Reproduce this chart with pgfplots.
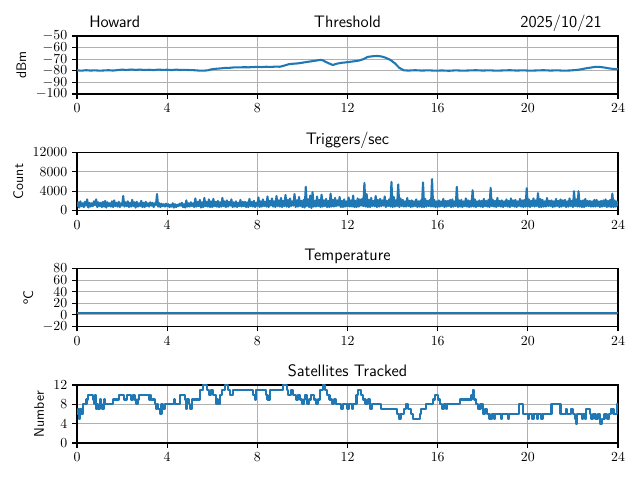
\documentclass[border=0pt]{standalone}
\usepackage{pgfplots}
\pgfplotsset{compat=1.18}
\definecolor{mplblue}{HTML}{1F77B4}
\definecolor{gridgray}{HTML}{B0B0B0}
\pgfplotsset{
  panel/.style={
    scale only axis, width=5.41in, height=0.58in, anchor=south west,
    xmin=0, xmax=24, xtick={0,4,...,24},
    grid=major, major grid style={color=gridgray, line width=0.8pt},
    axis line style={line width=0.8pt},
    tick align=outside, major tick length=3.5pt, tick pos=left,
    tick style={black, line width=0.8pt},
    scaled y ticks=false,
    /pgf/number format/1000 sep={},
    ylabel style={font=\sffamily},
    every axis title/.style={at={(0.5,1)}, anchor=base, yshift=6pt, inner sep=0pt,
      font=\sffamily\fontsize{12}{14}\selectfont},
  },
  mplline/.style={color=mplblue, line width=1.5pt, line join=round, no markers},
}
\begin{document}
\begin{tikzpicture}
\path[use as bounding box] (0,0) rectangle (6.4in,4.8in);
% Panel 1: Threshold
\begin{axis}[panel, at={(0.77in,3.86in)}, ymin=-100, ymax=-50, ytick={-100,-90,...,-50}, ylabel={dBm}, title={Threshold}]
\addplot[mplline] coordinates {
(0.0,-79.6) (0.2,-79.9) (0.4,-79.5) (0.6,-79.8) (0.8,-79.6) (1.0,-79.9) (1.2,-79.7) (1.4,-79.5) (1.6,-79.8) (1.8,-79.4)
(2.0,-79.0) (2.2,-79.3) (2.4,-78.9) (2.6,-79.2) (2.8,-79.0) (3.0,-79.3) (3.2,-79.1) (3.4,-79.4) (3.6,-79.0) (3.8,-79.2)
(4.0,-79.1) (4.2,-79.4) (4.4,-79.0) (4.6,-79.3) (4.8,-79.2) (5.0,-79.4) (5.2,-79.5) (5.4,-79.8) (5.6,-79.9) (5.8,-79.6)
(6.0,-78.6) (6.2,-78.2) (6.4,-77.9) (6.6,-77.5) (6.8,-77.4) (7.0,-77.0) (7.2,-77.1) (7.4,-76.9) (7.6,-77.0) (7.8,-76.8)
(8.0,-76.6) (8.2,-76.8) (8.4,-76.5) (8.6,-76.7) (8.8,-76.4) (9.0,-76.5) (9.2,-75.5) (9.4,-74.3) (9.6,-73.9) (9.8,-73.6)
(10.0,-73.0) (10.2,-72.4) (10.4,-71.8) (10.6,-71.2) (10.8,-70.6) (10.9,-70.9) (11.0,-72.0) (11.2,-73.8) (11.35,-75.0) (11.5,-74.0)
(11.7,-73.2) (11.9,-72.8) (12.1,-72.3) (12.3,-71.8) (12.5,-71.2) (12.7,-70.0) (12.9,-68.0) (13.1,-67.5) (13.3,-67.2) (13.5,-67.6)
(13.7,-68.8) (13.9,-70.6) (14.1,-73.5) (14.3,-77.5) (14.5,-79.6) (14.7,-79.8) (15.0,-79.5) (15.3,-79.8) (15.6,-79.6) (15.9,-79.9)
(16.2,-79.7) (16.5,-80.0) (16.8,-79.6) (17.1,-79.9) (17.4,-79.7) (17.7,-79.5) (18.0,-79.8) (18.3,-79.6) (18.6,-79.9) (18.9,-79.7)
(19.2,-79.5) (19.5,-79.8) (19.8,-79.6) (20.1,-79.9) (20.4,-79.7) (20.7,-79.5) (21.0,-79.8) (21.3,-79.6) (21.6,-79.9) (21.9,-79.7)
(22.2,-79.2) (22.4,-78.6) (22.6,-77.8) (22.8,-77.2) (23.0,-76.6) (23.2,-76.7) (23.4,-77.2) (23.6,-77.9) (23.8,-78.4) (24.0,-78.6)
};
\end{axis}
\node[anchor=base west, inner sep=0pt, font=\sffamily\fontsize{12}{14}\selectfont] at (0.89in,4.52in) {Howard};
\node[anchor=base east, inner sep=0pt, font=\sffamily\fontsize{12}{14}\selectfont] at (6.02in,4.52in) {2025/10/21};
% Panel 2: Triggers/sec
\begin{axis}[panel, at={(0.77in,2.695in)}, ymin=0, ymax=12000, ytick={0,4000,8000,12000}, ylabel={Count}, title={Triggers/sec}]
\addplot[mplline] coordinates {
(0.00,800)(0.05,1700)(0.10,600)(0.15,1900)(0.20,900)(0.25,1500)(0.30,700)(0.35,1800)(0.40,1000)(0.45,2300)(0.50,600)(0.55,1600)(0.60,800)(0.65,1500)(0.70,900)(0.75,1900)(0.80,1100)(0.85,2300)(0.90,700)(0.95,1700)
(1.00,900)(1.05,1600)(1.10,700)(1.15,1800)(1.20,800)(1.25,2000)(1.30,600)(1.35,1700)(1.40,900)(1.45,1500)(1.50,800)(1.55,1900)(1.60,700)(1.65,2100)(1.70,900)(1.75,1600)(1.80,800)(1.85,1800)(1.90,700)(1.95,1500)
(2.00,1000)(2.05,3000)(2.10,800)(2.15,1700)(2.20,900)(2.25,1900)(2.30,700)(2.35,1600)(2.40,800)(2.45,2200)(2.50,900)(2.55,1700)(2.60,600)(2.65,1800)(2.70,800)(2.75,1500)(2.80,900)(2.85,2000)(2.90,700)(2.95,1600)
(3.00,700)(3.05,1800)(3.10,900)(3.15,1500)(3.20,800)(3.25,1700)(3.30,1000)(3.35,1600)(3.40,700)(3.45,1500)(3.50,1100)(3.55,3400)(3.60,800)(3.65,1500)(3.70,700)(3.75,1400)(3.80,900)(3.85,1300)(3.90,800)(3.95,1400)
(4.00,900)(4.05,1300)(4.10,700)(4.15,1200)(4.20,800)(4.25,1500)(4.30,600)(4.35,1300)(4.40,700)(4.45,1200)(4.50,900)(4.55,1400)(4.60,1000)(4.65,1600)(4.70,700)(4.75,1300)(4.80,600)(4.85,2100)(4.90,800)(4.95,1500)
(5.00,800)(5.05,1700)(5.10,900)(5.15,1500)(5.20,700)(5.25,2500)(5.30,800)(5.35,1800)(5.40,900)(5.45,2200)(5.50,600)(5.55,1700)(5.60,700)(5.65,2600)(5.70,900)(5.75,1800)(5.80,800)(5.85,2300)(5.90,700)(5.95,1900)
(6.00,700)(6.05,2400)(6.10,900)(6.15,1800)(6.20,800)(6.25,2000)(6.30,700)(6.35,1700)(6.40,800)(6.45,2600)(6.50,900)(6.55,1900)(6.60,700)(6.65,2100)(6.70,800)(6.75,1800)(6.80,1000)(6.85,2300)(6.90,700)(6.95,1700)
(7.00,800)(7.05,1900)(7.10,700)(7.15,1600)(7.20,900)(7.25,2200)(7.30,800)(7.35,1800)(7.40,900)(7.45,1800)(7.50,700)(7.55,1700)(7.60,700)(7.65,2400)(7.70,900)(7.75,1800)(7.80,800)(7.85,2000)(7.90,700)(7.95,1600)
(8.00,900)(8.05,2700)(8.10,700)(8.15,1900)(8.20,800)(8.25,2300)(8.30,900)(8.35,1800)(8.40,800)(8.45,2900)(8.50,700)(8.55,2000)(8.60,1000)(8.65,2500)(8.70,800)(8.75,1900)(8.80,700)(8.85,3000)(8.90,900)(8.95,2100)
(9.00,800)(9.05,2600)(9.10,700)(9.15,2000)(9.20,900)(9.25,3200)(9.30,800)(9.35,2200)(9.40,700)(9.45,2500)(9.50,900)(9.55,1900)(9.60,1000)(9.65,3400)(9.70,700)(9.75,2100)(9.80,800)(9.85,2800)(9.90,900)(9.95,2000)
(10.00,700)(10.05,2200)(10.10,600)(10.15,4900)(10.20,900)(10.25,2300)(10.30,700)(10.35,3100)(10.40,500)(10.45,3800)(10.50,800)(10.55,2000)(10.60,800)(10.65,2900)(10.70,900)(10.75,2200)(10.80,700)(10.85,3300)(10.90,800)(10.95,2100)
(11.00,900)(11.05,2400)(11.10,700)(11.15,2000)(11.20,700)(11.25,3500)(11.30,800)(11.35,2200)(11.40,800)(11.45,2600)(11.50,900)(11.55,2100)(11.60,1000)(11.65,2800)(11.70,700)(11.75,2000)(11.80,700)(11.85,2300)(11.90,800)(11.95,1900)
(12.00,900)(12.05,2700)(12.10,800)(12.15,2100)(12.20,800)(12.25,3100)(12.30,700)(12.35,2000)(12.40,700)(12.45,2500)(12.50,800)(12.55,2300)(12.60,1000)(12.65,2400)(12.70,900)(12.75,5700)(12.80,800)(12.85,3400)(12.90,700)(12.95,2200)
(13.00,700)(13.05,2600)(13.10,900)(13.15,2000)(13.20,900)(13.25,3000)(13.30,700)(13.35,2200)(13.40,800)(13.45,2400)(13.50,900)(13.55,2100)(13.60,1000)(13.65,2900)(13.70,700)(13.75,2000)(13.80,900)(13.85,2300)(13.90,800)(13.95,5900)
(14.00,700)(14.05,2800)(14.10,800)(14.15,2100)(14.20,900)(14.25,5400)(14.30,700)(14.35,2500)(14.40,900)(14.45,2200)(14.50,800)(14.55,1900)(14.60,800)(14.65,2600)(14.70,900)(14.75,2000)(14.80,700)(14.85,2100)(14.90,800)(14.95,1900)
(15.00,900)(15.05,2300)(15.10,700)(15.15,1900)(15.20,800)(15.25,2100)(15.30,700)(15.35,5800)(15.40,700)(15.45,2400)(15.50,800)(15.55,2000)(15.60,900)(15.65,2200)(15.70,800)(15.75,6500)(15.80,800)(15.85,2200)(15.90,700)(15.95,1900)
(16.00,700)(16.05,2100)(16.10,800)(16.15,1900)(16.20,900)(16.25,2400)(16.30,700)(16.35,2000)(16.40,800)(16.45,2000)(16.50,900)(16.55,2200)(16.60,700)(16.65,2300)(16.70,800)(16.75,1900)(16.80,900)(16.85,4900)(16.90,700)(16.95,2100)
(17.00,800)(17.05,2200)(17.10,700)(17.15,1900)(17.20,900)(17.25,2500)(17.30,800)(17.35,2100)(17.40,700)(17.45,2000)(17.50,800)(17.55,4200)(17.60,800)(17.65,2300)(17.70,700)(17.75,1900)(17.80,900)(17.85,2100)(17.90,800)(17.95,2000)
(18.00,700)(18.05,2400)(18.10,900)(18.15,2000)(18.20,800)(18.25,2200)(18.30,700)(18.35,4700)(18.40,900)(18.45,2200)(18.50,800)(18.55,2000)(18.60,700)(18.65,2600)(18.70,900)(18.75,2000)(18.80,800)(18.85,2100)(18.90,700)(18.95,1900)
(19.00,900)(19.05,2300)(19.10,800)(19.15,2000)(19.20,700)(19.25,2500)(19.30,900)(19.35,2100)(19.40,800)(19.45,2200)(19.50,700)(19.55,1900)(19.60,900)(19.65,2400)(19.70,800)(19.75,2100)(19.80,700)(19.85,2200)(19.90,800)(19.95,4600)
(20.00,800)(20.05,2300)(20.10,700)(20.15,2000)(20.20,900)(20.25,2500)(20.30,800)(20.35,2100)(20.40,900)(20.45,3600)(20.50,700)(20.55,2400)(20.60,700)(20.65,2200)(20.70,800)(20.75,1900)(20.80,800)(20.85,2600)(20.90,900)(20.95,2000)
(21.00,900)(21.05,2100)(21.10,700)(21.15,1900)(21.20,800)(21.25,2400)(21.30,900)(21.35,2000)(21.40,700)(21.45,2300)(21.50,800)(21.55,2100)(21.60,900)(21.65,2200)(21.70,700)(21.75,1900)(21.80,800)(21.85,2500)(21.90,900)(21.95,2000)
(22.00,700)(22.05,4000)(22.10,900)(22.15,2300)(22.20,800)(22.25,4000)(22.30,800)(22.35,2000)(22.40,700)(22.45,2100)(22.50,700)(22.55,2400)(22.60,900)(22.65,2000)(22.70,900)(22.75,2000)(22.80,800)(22.85,1900)(22.90,800)(22.95,2200)
(23.00,800)(23.05,2200)(23.10,900)(23.15,1900)(23.20,700)(23.25,2000)(23.30,800)(23.35,2100)(23.40,900)(23.45,2300)(23.50,700)(23.55,2000)(23.60,800)(23.65,2200)(23.70,700)(23.75,3500)(23.80,700)(23.85,2100)(23.90,800)(23.95,1900)
(24.00,900)
};
\end{axis}
% Panel 3: Temperature
\begin{axis}[panel, at={(0.77in,1.535in)}, ymin=-20, ymax=80, ytick={-20,0,...,80}, ylabel={\textsuperscript{o}C}, title={Temperature}]
\addplot[mplline] coordinates {(0,4.0) (4,4.0) (8,4.0) (12,4.0) (16,4.0) (20,4.0) (24,4.0)};
\end{axis}
% Panel 4: Satellites Tracked
\begin{axis}[panel, at={(0.77in,0.37in)}, ymin=0, ymax=12, ytick={0,4,8,12}, ylabel={Number}, title={Satellites Tracked}]
\addplot[mplline, const plot] coordinates {
(0,6) (0.05,7) (0.1,5) (0.15,7) (0.2,6) (0.28,8) (0.42,9) (0.5,10) (0.7,9) (0.75,8) (0.8,10) (0.85,7) (0.9,8) (0.95,7)
(1.0,9) (1.05,8) (1.1,7) (1.2,9) (1.25,8) (1.6,9) (1.85,10) (2.1,9) (2.2,10) (2.4,9) (2.5,10) (2.55,9) (2.6,8) (2.7,9) (2.75,10)
(3.2,9) (3.25,10) (3.3,9) (3.45,8) (3.5,7) (3.55,8) (3.6,7) (3.7,6) (3.75,8) (3.8,7) (3.9,8) (4.3,9) (4.35,8) (4.55,10)
(4.8,9) (4.85,7) (4.9,9) (4.95,8) (5.0,7) (5.1,9) (5.45,11) (5.6,12) (5.75,11) (5.85,10) (5.95,11) (6.05,10) (6.15,8) (6.2,9)
(6.25,8) (6.35,10) (6.45,11) (6.55,12) (6.7,11) (6.8,10) (6.9,11) (7.8,10) (7.9,9) (7.95,11) (8.4,10) (8.45,9) (8.55,11)
(9.15,12) (9.3,11) (9.35,10) (9.5,11) (9.6,10) (9.7,9) (9.8,10) (9.9,9) (10.0,8) (10.05,9) (10.1,10) (10.2,8) (10.3,9)
(10.4,10) (10.5,9) (10.6,8) (10.7,9) (10.8,11) (10.9,12) (11.0,11) (11.1,10) (11.2,9) (11.3,8) (11.4,9) (11.5,8) (11.7,7)
(11.8,8) (12.0,7) (12.05,8) (12.2,7) (12.25,8) (12.4,10) (12.45,11) (12.6,10) (12.7,9) (12.8,8) (12.9,9) (13.0,7) (13.1,8)
(13.5,7) (14.2,6) (14.3,5) (14.35,6) (14.5,7) (14.6,8) (14.7,7) (14.8,6) (14.9,5) (15.2,6) (15.25,7) (15.5,8) (15.8,9)
(15.9,10) (16.0,9) (16.1,8) (16.2,7) (16.3,8) (16.35,7) (16.4,8) (17.0,9) (17.5,10) (17.55,11) (17.6,9) (17.7,8) (17.8,7)
(17.9,8) (18.0,6) (18.1,7) (18.2,6) (18.3,5) (18.4,6) (18.5,5) (18.55,6) (18.8,5) (18.85,6) (19.1,5) (19.15,6) (19.6,8)
(19.8,6) (20.0,5) (20.05,6) (20.2,5) (20.25,6) (20.4,5) (20.45,6) (20.6,5) (20.65,6) (21.05,8) (21.45,6) (21.7,7) (21.75,6)
(21.9,7) (22.0,6) (22.1,5) (22.15,4) (22.2,6) (22.4,5) (22.45,6) (22.55,5) (22.6,7) (22.75,6) (22.8,5) (22.9,6) (23.0,5)
(23.1,6) (23.2,4) (23.3,5) (23.4,6) (23.5,5) (23.6,6) (23.7,7) (23.8,6) (23.95,8) (24,7)
};
\end{axis}
\end{tikzpicture}
\end{document}
